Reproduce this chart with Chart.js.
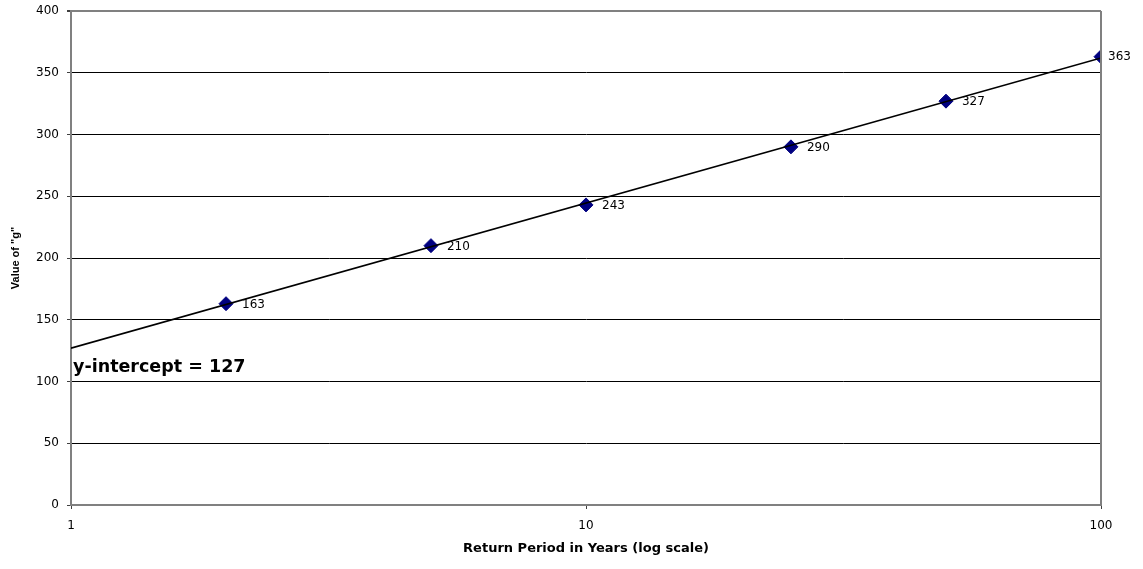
<!DOCTYPE html>
<html>
<head>
<meta charset="utf-8">
<title>Value of "g" vs Return Period</title>
<script src="https://cdn.jsdelivr.net/npm/chart.js@4/dist/chart.umd.min.js"></script>
<style>
  html, body { margin: 0; padding: 0; background: #ffffff; }
  #wrap { width: 1143px; height: 569px; }
</style>
</head>
<body>
<div id="wrap"><canvas id="c" width="1143" height="569"></canvas></div>
<script>
// Return periods (years) and fitted "g" values
const returnPeriods = [2, 5, 10, 25, 50, 100];
const gValues = [163, 210, 243, 290, 327, 363];

// Logarithmic trend line end points (y at x = 1 and x = 100)
const trendX = [1, 100];
const trendY = [127, 362];
const interceptLabel = 'y-intercept = 127';

const xTickValues = [1, 10, 100];
const FONT = "'DejaVu Sans', 'Liberation Sans', sans-serif";
const NARROW = "'Liberation Sans', Arial, sans-serif";

const points = returnPeriods.map((x, i) => ({ x: x, y: gValues[i] }));
const trend = trendX.map((x, i) => ({ x: x, y: trendY[i] }));

// Value labels beside each marker, plus the intercept note and frame edge
const labelPlugin = {
  id: 'labels',
  afterDatasetsDraw(chart) {
    const ctx = chart.ctx;
    const area = chart.chartArea;
    const yScale = chart.scales.y;

    // gray frame on the right of the plot area
    ctx.save();
    ctx.strokeStyle = '#808080';
    ctx.lineWidth = 2;
    ctx.beginPath();
    ctx.moveTo(area.right, area.top);
    ctx.lineTo(area.right, area.bottom);
    ctx.stroke();
    ctx.restore();

    const meta = chart.getDatasetMeta(1);
    ctx.save();
    ctx.font = '12px ' + FONT;
    ctx.fillStyle = '#000';
    ctx.textAlign = 'left';
    ctx.textBaseline = 'middle';
    meta.data.forEach((el, i) => {
      const last = i === meta.data.length - 1;
      ctx.fillText(String(gValues[i]), el.x + (last ? 7 : 16), el.y + (last ? 0 : 1));
    });

    ctx.font = 'bold 17.5px ' + FONT;
    ctx.fillText(interceptLabel, area.left + 2, yScale.getPixelForValue(111));
    ctx.restore();
  }
};

new Chart(document.getElementById('c'), {
  type: 'scatter',
  data: {
    datasets: [
      {
        type: 'line',
        data: trend,
        borderColor: '#000000',
        borderWidth: 1.6,
        pointRadius: 0,
        fill: false,
        tension: 0
      },
      {
        data: points,
        pointStyle: 'rectRot',
        pointRadius: 7,
        backgroundColor: '#000080',
        borderColor: '#000080',
        borderWidth: 1
      }
    ]
  },
  options: {
    responsive: false,
    devicePixelRatio: 1,
    animation: false,
    events: [],
    layout: { padding: { top: 11, right: 42, left: 9, bottom: 13 } },
    plugins: {
      legend: { display: false },
      tooltip: { enabled: false }
    },
    scales: {
      x: {
        type: 'logarithmic',
        min: 1,
        max: 100,
        afterBuildTicks(scale) {
          scale.ticks = xTickValues.map(v => ({ value: v }));
        },
        afterFit(scale) { scale.height = 51; },
        ticks: {
          callback: (v) => String(v),
          font: { family: FONT, size: 12 },
          color: '#000',
          padding: 10,
          maxRotation: 0,
          autoSkip: false
        },
        grid: {
          drawOnChartArea: false,
          drawTicks: true,
          tickLength: 4,
          color: '#404040'
        },
        border: { color: '#808080', width: 2 },
        title: {
          display: true,
          text: 'Return Period in Years (log scale)',
          font: { family: FONT, size: 13, weight: 'bold' },
          color: '#000',
          padding: { top: 6, bottom: 0 }
        }
      },
      y: {
        min: 0,
        max: 400,
        afterFit(scale) {
          scale.width = 62;
          scale.paddingTop = 0;
          scale.paddingBottom = 0;
        },
        ticks: {
          stepSize: 50,
          font: { family: FONT, size: 12 },
          color: '#000',
          padding: 8
        },
        grid: {
          color: (c) => (c.tick && c.tick.value === 400 ? '#808080' : '#000000'),
          lineWidth: (c) => (c.tick && c.tick.value === 400 ? 2 : 1),
          tickColor: '#404040',
          tickLength: 4
        },
        border: { color: '#808080', width: 2 },
        title: {
          display: true,
          text: 'Value of "g"',
          font: { family: NARROW, size: 11, weight: 'bold' },
          color: '#000',
          padding: { top: 0, bottom: 8 }
        }
      }
    }
  },
  plugins: [labelPlugin]
});
</script>
</body>
</html>
